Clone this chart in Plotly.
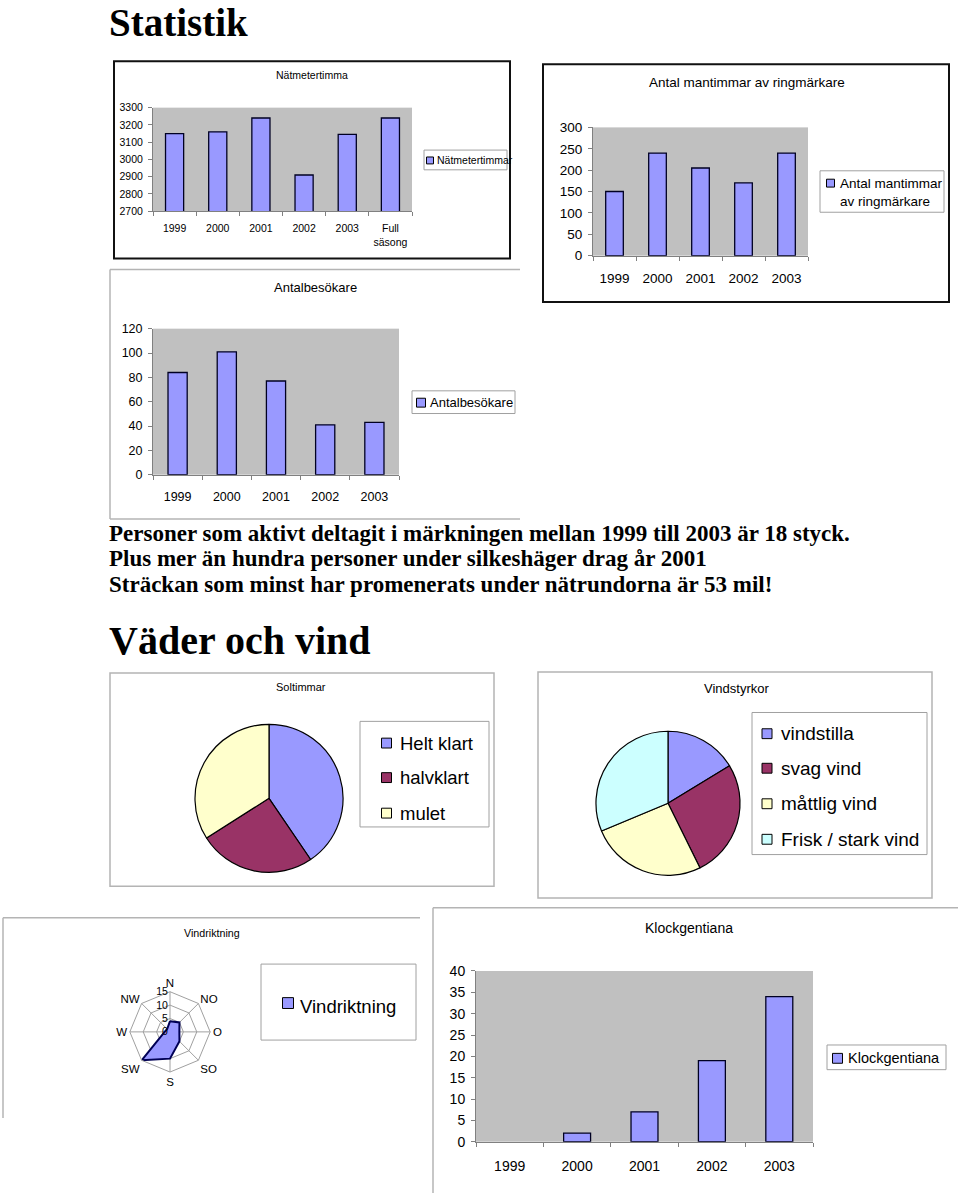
import plotly.graph_objects as go

W, H = 960, 1201

# ---------------- data ----------------
years = ["1999", "2000", "2001", "2002", "2003"]
net_categories = years + ["Full<br>säsong"]
net_hours = [3150, 3160, 3240, 2910, 3145, 3240]          # Nätmetertimma
ringer_hours = [150, 240, 205, 170, 240]                    # Antal mantimmar av ringmärkare
visitors = [84, 101, 77, 41, 43]                            # Antalbesökare
gentiana = [None, 2, 7, 19, 34]                             # Klockgentiana (1999: none)
sun_labels = ["Helt klart", "halvklart", "mulet"]
sun_values = [40.5, 25.5, 34.0]
wind_labels = ["vindstilla", "svag vind", "måttlig vind", "Frisk / stark vind"]
wind_values = [16.3, 26.4, 26.0, 31.3]
dir_labels = ["N", "NO", "O", "SO", "S", "SW", "W", "NW"]
dir_values = [4, 5, 3.5, 5, 10, 15, 2, 1.5]

BAR = "#9999FF"
SUN_COLORS = ["#9999FF", "#993366", "#FFFFCC"]
WIND_COLORS = ["#9999FF", "#993366", "#FFFFCC", "#CCFFFF"]
SANS = "Liberation Sans"
SERIF = "Liberation Serif"


def X(p):
    return p / W


def Y(p):
    return 1 - p / H


fig = go.Figure()
shapes = []
annotations = []


def add_text(x, y, s, size, family=SANS, anchor="left", align="left"):
    annotations.append(dict(x=X(x), y=Y(y), xref="paper", yref="paper", text=s,
                            showarrow=False, xanchor=anchor, yanchor="middle", align=align,
                            font=dict(family=family, size=size, color="black")))


def add_rect(x0, y0, x1, y1, color="#808080", width=1, fill="rgba(0,0,0,0)"):
    shapes.append(dict(type="rect", xref="paper", yref="paper", x0=X(x0), x1=X(x1),
                       y0=Y(y1), y1=Y(y0), line=dict(color=color, width=width),
                       fillcolor=fill, layer="above"))


def add_line(x0, y0, x1, y1, color="#b4b4b4", width=1.5):
    shapes.append(dict(type="line", xref="paper", yref="paper", x0=X(x0), x1=X(x1),
                       y0=Y(y0), y1=Y(y1), line=dict(color=color, width=width)))


def legend(box, items, size):
    # box: (x0,y0,x1,y1); items: list of (sx0, sy_center, tx, ty, label, color, ssize)
    add_rect(*box, color="#a0a0a0", width=1, fill="white")
    for sx, sy, tx, ty, label, color, ss in items:
        add_rect(sx, sy - ss / 2, sx + ss, sy + ss / 2, color="black", width=1, fill=color)
        add_text(tx, ty, label, size)


# ---------------- bar charts ----------------
bar_specs = [
    # axis id, x-domain px, y-domain px (top, bottom), categories, values, range, dtick, width, font, xstandoff
    ("", (153, 412), (101, 206), net_categories, net_hours, [2700, 3300], 100, 0.42, 10.5, 7),
    ("2", (593, 808), (121, 251), years, ringer_hours, [0, 300], 50, 0.41, 13.5, 10),
    ("3", (153, 399), (325, 473), years, visitors, [0, 120], 20, 0.39, 12.5, 10),
    ("4", (476, 813), (976, 1149), years, gentiana, [0, 40], 5, 0.40, 14, 12),
]

layout_axes = {}
for aid, xd, yd, cats, vals, rng, dt, bw, fs, xso in bar_specs:
    fig.add_trace(go.Bar(x=cats, y=vals, xaxis="x" + aid, yaxis="y" + aid, width=bw,
                         marker=dict(color=BAR, line=dict(color="#000022", width=1.3)),
                         showlegend=False, hoverinfo="x+y"))
    common = dict(showline=True, linecolor="#808080", linewidth=1, ticks="outside",
                  ticklen=4, tickcolor="#808080", showgrid=False, zeroline=False,
                  tickfont=dict(family=SANS, size=fs, color="black"), fixedrange=True)
    layout_axes["xaxis" + aid] = dict(domain=[X(xd[0]), X(xd[1])], anchor="y" + aid,
                                      type="category", tickson="boundaries",
                                      ticklabelstandoff=xso, **common)
    layout_axes["yaxis" + aid] = dict(domain=[Y(yd[1]), Y(yd[0])], anchor="x" + aid,
                                      range=rng, dtick=dt, ticklabelstandoff=3, **common)

# ---------------- pies ----------------
fig.add_trace(go.Pie(labels=sun_labels, values=sun_values, sort=False, direction="clockwise",
                     rotation=0, textinfo="none", showlegend=False,
                     marker=dict(colors=SUN_COLORS, line=dict(color="black", width=1.2)),
                     domain=dict(x=[X(269 - 75), X(269 + 75)], y=[Y(801 + 75), Y(801 - 75)])))
fig.add_trace(go.Pie(labels=wind_labels, values=wind_values, sort=False, direction="clockwise",
                     rotation=0, textinfo="none", showlegend=False,
                     marker=dict(colors=WIND_COLORS, line=dict(color="black", width=1.2)),
                     domain=dict(x=[X(668 - 73), X(668 + 73)], y=[Y(806 + 73), Y(806 - 73)])))

# ---------------- radar ----------------
fig.add_trace(go.Scatterpolar(r=dir_values + dir_values[:1], theta=dir_labels + dir_labels[:1],
                              mode="lines", fill="toself", fillcolor=BAR,
                              line=dict(color="#000055", width=2), showlegend=False,
                              subplot="polar"))
rc, rcy, rr = 170, 1037.7, 40.7

# ---------------- frames ----------------
add_rect(114, 54, 510, 254, color="#111111", width=2)
add_rect(543, 57, 949, 298, color="#111111", width=2)
add_line(110, 265, 520, 265)
add_line(110, 265, 110, 518)
add_line(110, 518, 520, 518)
add_rect(110, 674, 494, 890, color="#b4b4b4", width=1.5)
add_rect(538, 673, 932, 902, color="#b4b4b4", width=1.5)
add_line(3, 922, 420, 922)
add_line(3, 922, 3, 1125)
add_line(433, 912, 958, 912)
add_line(433, 912, 433, 1201)

# ---------------- chart titles ----------------
add_text(312, 68, "Nätmetertimma", 10.5, anchor="center")
add_text(747, 76, "Antal mantimmar av ringmärkare", 13.5, anchor="center")
add_text(315, 283, "Antalbesökare", 13, anchor="center")
add_text(301, 688, "Soltimmar", 11, anchor="center")
add_text(736, 690, "Vindstyrkor", 13, anchor="center")
add_text(212, 937, "Vindriktning", 10.7, anchor="center")
add_text(689, 932, "Klockgentiana", 14, anchor="center")

# ---------------- legends ----------------
legend((424, 144, 507, 164), [(426.5, 154.5, 435, 154.5, "Nätmetertimmar", BAR, 7)], 10.5)
legend((820, 165, 944, 207), [(826.5, 177.5, 838, 186.5, "Antal mantimmar<br>av ringmärkare", BAR, 8)], 13.5)
legend((412, 388, 515, 411), [(416.5, 400, 428, 400, "Antalbesökare", BAR, 9)], 13)
legend((360, 723, 489, 830),
       [(381.5, y, 397.5, y, lab, col, 10) for y, lab, col in zip([745, 780, 816], sun_labels, SUN_COLORS)],
       18.5)
legend((752, 714, 927, 858),
       [(762, y, 779, y, lab, col, 10) for y, lab, col in zip([735.5, 770.5, 806.5, 842.5], wind_labels, WIND_COLORS)],
       19)
legend((261, 969, 416, 1046), [(282.5, 1008.5, 298, 1011.5, "Vindriktning", BAR, 11)], 18.5)
legend((827, 1051, 946, 1076), [(832.5, 1064.5, 846, 1064.5, "Klockgentiana", BAR, 10)], 14.5)

# ---------------- page text ----------------
add_text(107, 15, "<b>Statistik</b>", 39, family=SERIF)
add_text(107, 533, "<b>Personer som aktivt deltagit i märkningen mellan 1999 till 2003 är 18 styck.</b>", 23, family=SERIF)
add_text(107, 558, "<b>Plus mer än hundra personer under silkeshäger drag år 2001</b>", 23, family=SERIF)
add_text(107, 584, "<b>Sträckan som minst har promenerats under nätrundorna är 53 mil!</b>", 23, family=SERIF)
add_text(107, 641, "<b>Väder och vind</b>", 40, family=SERIF)

fig.update_layout(
    width=W, height=H, autosize=False,
    margin=dict(l=0, r=0, t=0, b=0),
    paper_bgcolor="white", plot_bgcolor="#C0C0C0",
    font=dict(family=SANS, color="black"),
    showlegend=False,
    shapes=shapes, annotations=annotations,
    polar=dict(
        domain=dict(x=[X(rc - rr), X(rc + rr)], y=[Y(rcy + rr), Y(rcy - rr)]),
        gridshape="linear", bgcolor="white",
        angularaxis=dict(direction="clockwise", rotation=90, categoryorder="array",
                         categoryarray=dir_labels, tickfont=dict(family=SANS, size=11.5),
                         linecolor="#a0a0a0", gridcolor="#a0a0a0", ticks="", showline=True),
        radialaxis=dict(range=[0, 15], tickvals=[0, 5, 10, 15], angle=90, tickangle=90,
                        tickfont=dict(family=SANS, size=10.5), gridcolor="#a0a0a0",
                        showline=False, ticks="", side="counterclockwise"),
    ),
    **layout_axes,
)

fig.write_html("out.html", config={"displayModeBar": False},
               post_script="document.body.style.margin='0';document.body.style.overflow='hidden';")
